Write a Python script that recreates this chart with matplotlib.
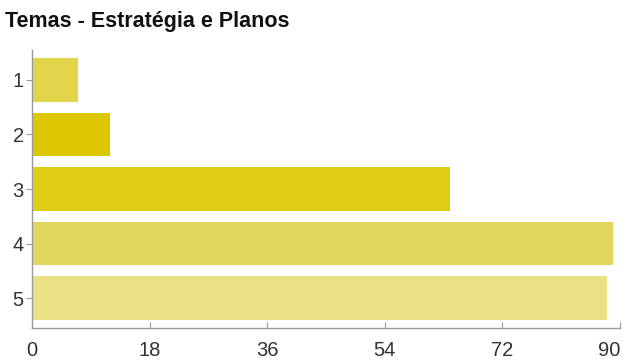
import matplotlib
matplotlib.use("Agg")
import matplotlib.pyplot as plt

# answer categories and counts
categories = ["1", "2", "3", "4", "5"]
counts = [7, 12, 64, 89, 88]
bar_colors = ["#E2D44B", "#DCC700", "#DFCC14", "#E3D65E", "#EAE187"]
x_ticks = [0, 18, 36, 54, 72, 90]

plt.rcParams['font.family'] = ['Liberation Sans', 'DejaVu Sans']

fig = plt.figure(figsize=(6.36, 3.61), dpi=100)
ax = fig.add_axes([0.0503, 0.0914, 0.9245, 0.7701])

pos = list(range(1, len(categories) + 1))
ax.barh(pos, counts, height=0.79, color=bar_colors, edgecolor="none")

ax.set_xlim(0, 90)
ax.set_ylim(5.55, 0.45)
ax.set_yticks(pos)
ax.set_yticklabels(categories)
ax.set_xticks(x_ticks)
ax.set_xticklabels([str(t) for t in x_ticks])
# keep the last label inside the figure
ax.get_xticklabels()[-1].set_ha("right")

for s in ["top", "right"]:
    ax.spines[s].set_visible(False)
for s in ["left", "bottom"]:
    ax.spines[s].set_color("#9a9a9a")
    ax.spines[s].set_linewidth(1)

ax.tick_params(axis="x", direction="in", length=4, color="#9a9a9a",
               labelsize=14.5, labelcolor="#333333", pad=9)
ax.tick_params(axis="y", direction="out", length=4, color="#9a9a9a",
               labelsize=14.5, labelcolor="#333333", pad=2)

fig.text(5 / 636, 1 - 22 / 361, "Temas - Estratégia e Planos", fontsize=15.5,
         fontweight="bold", color="#111111", va="center", ha="left")

fig.savefig("out.png", dpi=100)
